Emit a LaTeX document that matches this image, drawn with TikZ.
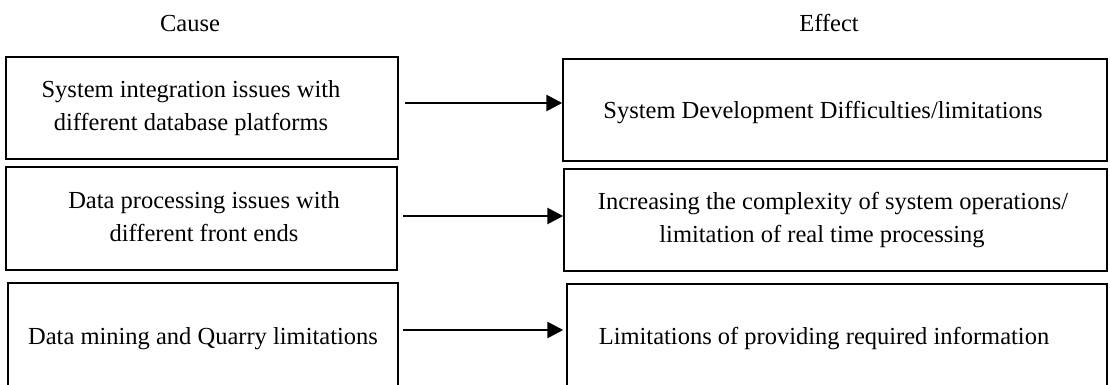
\documentclass[tikz,border=0pt]{standalone}
\usepackage{fontspec}
\setmainfont{Liberation Serif}
\usetikzlibrary{arrows.meta}
\begin{document}
\begin{tikzpicture}[x=1pt,y=-1pt,
  box/.style={draw, line width=1.5pt, inner sep=0pt},
  txt/.style={anchor=base, inner sep=0pt, font=\fontsize{24.5}{33}\selectfont},
  arr/.style={line width=2.8pt, -{Triangle[length=16pt,width=16pt]}}]
\useasboundingbox (0,0) rectangle (1110,385);
\fill[white] (0,0) rectangle (1110,385);
% headers
\node[txt] (hc) at (190,32) {Cause};
\node[txt] (he) at (829,32) {Effect};
% cause boxes
\node[box, minimum width=392pt, minimum height=102pt] (c1) at (202,108) {};
\node[box, minimum width=391pt, minimum height=103pt] (c2) at (201.5,218.5) {};
\node[box, minimum width=390pt, minimum height=103pt] (c3) at (203,334.5) {};
% effect boxes
\node[box, minimum width=544pt, minimum height=102pt] (e1) at (835,110) {};
\node[box, minimum width=543pt, minimum height=102pt] (e2) at (835.5,220) {};
\node[box, minimum width=540pt, minimum height=102pt] (e3) at (837,335) {};
% texts
\node[txt] (c1a) at (191,98) {System integration issues with};
\node[txt] (c1b) at (191,131) {different database platforms};
\node[txt] (c2a) at (204,208) {Data processing issues with};
\node[txt] (c2b) at (204,241) {different front ends};
\node[txt] (c3a) at (203,344) {Data mining and Quarry limitations};
\node[txt] (e1a) at (823,118) {System Development Difficulties/limitations};
\node[txt] (e2a) at (833,209) {Increasing the complexity of system operations/};
\node[txt] (e2b) at (822,242) {limitation of real time processing};
\node[txt] (e3a) at (824,344) {Limitations of providing required information};
% arrows
\coordinate (a1) at (405,103);
\coordinate (a2) at (403,216);
\coordinate (a3) at (403,330);
\draw[arr] (a1) -- (a1 -| e1.west);
\draw[arr] (a2) -- (a2 -| e2.west);
\draw[arr, shorten >=3pt] (a3) -- (a3 -| e3.west);
\end{tikzpicture}
\end{document}
